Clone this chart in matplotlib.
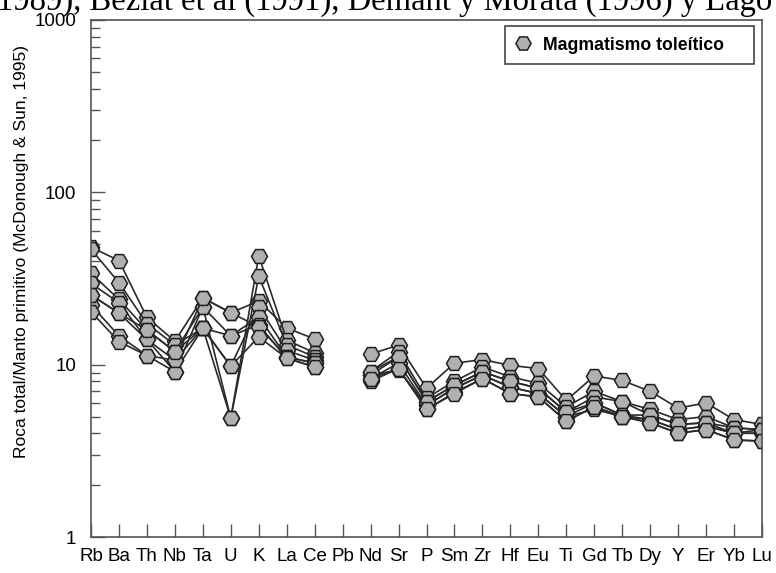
import numpy as np
import matplotlib
matplotlib.use('Agg')
import matplotlib.pyplot as plt

nan = np.nan

"""DATA"""
elements = ['Rb', 'Ba', 'Th', 'Nb', 'Ta', 'U', 'K', 'La', 'Ce', 'Pb', 'Nd', 'Sr', 'P', 'Sm',
            'Zr', 'Hf', 'Eu', 'Ti', 'Gd', 'Tb', 'Dy', 'Y', 'Er', 'Yb', 'Lu']

# normalised to primitive mantle, one list per sample (Pb not analysed)
s1 = [48.0, 40.2, 18.8, 13.7, 24.4, 20.0, 23.4, 16.3, 14.1, nan,
      11.5, 13.0, 7.3, 10.2, 10.7, 9.9, 9.5, 6.2, 8.6, 8.1, 7.0, 5.6, 6.0, 4.8, 4.5]
s2 = [46.8, 29.9, 17.3, 13.0, 16.3, 4.9, 42.8, 13.9, 11.7, nan,
      9.1, 11.9, 6.4, 8.0, 9.7, 8.5, 7.8, 5.7, 7.0, 6.1, 5.5, 4.8, 5.0, 4.3, 4.2]
s3 = [33.9, 23.9, 15.9, 11.9, 21.6, 4.9, 32.6, 13.0, 11.1, nan,
      8.7, 11.1, 6.1, 7.6, 9.1, 8.0, 7.3, 5.3, 6.5, 6.1, 5.1, 4.5, 4.6, 4.3, 4.2]
s4 = [29.6, 22.9, 14.0, 10.6, 16.3, 9.8, 21.6, 12.1, 10.6, nan,
      8.3, 10.2, 5.8, 7.3, 8.7, 7.4, 6.8, 5.0, 6.0, 5.1, 4.8, 4.2, 4.4, 4.0, 4.0]
s5 = [25.4, 19.9, 14.0, 9.1, 16.3, 14.7, 18.9, 11.1, 10.2, nan,
      8.0, 9.5, 5.5, 6.9, 8.3, 6.8, 6.5, 4.7, 5.7, 5.0, 4.6, 4.0, 4.2, 3.66, 3.6]
s6 = [22.2, 14.7, 11.3, 9.1, 21.6, 14.7, 17.0, 10.9, 9.7, nan,
      8.7, 9.3, 5.8, 7.3, 8.7, 7.4, 6.8, 5.0, 5.5, 5.0, 4.8, 4.2, 4.4, 4.0, 4.0]
s7 = [20.3, 13.6, 11.3, 10.6, 24.4, 20.0, 16.6, 11.1, 10.2, nan,
      9.1, 11.1, 6.1, 7.6, 9.1, 8.0, 7.3, 5.3, 6.0, 5.1, 5.1, 4.5, 4.6, 4.0, 4.2]
s8 = [25.4, 19.9, 15.9, 11.9, 16.3, 9.8, 14.5, 10.9, 9.7, nan,
      8.3, 9.5, 5.5, 6.8, 8.3, 6.8, 6.5, 4.7, 5.7, 5.0, 4.6, 4.0, 4.2, 3.66, 3.6]
samples = [s1, s2, s3, s4, s5, s6, s7, s8]

x = np.arange(len(elements))
axcol = '#555555'

fig = plt.figure(figsize=(7.76, 5.73), dpi=100)
ax = fig.add_axes([91/776, 1-537/573, 671/776, 517/573])

for i, s in enumerate(samples):
    ax.plot(x, s, color='#2a2a2a', lw=1.2, marker='H', ms=11.5,
            mfc='#b0b0b0', mec='#1e1e1e', mew=1.1,
            label='Magmatismo toleítico    ' if i == 0 else None)

ax.set_yscale('log')
ax.set_ylim(1, 1000)
ax.set_xlim(0, len(elements)-1)
ax.set_xticks(x)
ax.set_xticklabels(elements, family='Liberation Sans', fontsize=13.5)
ax.set_yticks([1, 10, 100, 1000])
ax.set_yticklabels(['1', '10', '100', '1000'], family='Liberation Sans', fontsize=13.5)
ax.tick_params(axis='y', which='major', direction='in', length=10, width=1, color=axcol, pad=10.5)
ax.tick_params(axis='y', which='minor', direction='in', length=6.5, width=1, color=axcol)
ax.tick_params(axis='x', direction='in', length=9.4, width=1, color=axcol, pad=8)
for spine in ('top', 'right', 'bottom', 'left'):
    ax.spines[spine].set_color(axcol)
    ax.spines[spine].set_linewidth(1.2)

fig.text(22/776, 1-252/573, 'Roca total/Manto primitivo (McDonough & Sun, 1995)',
         rotation=90, ha='center', va='center', family='Liberation Sans', fontsize=12.5)

legend = ax.legend(loc='upper right', bbox_to_anchor=(754/776, 1-26/573), bbox_transform=fig.transFigure,
                   prop={'family': 'Liberation Sans', 'weight': 'bold', 'size': 12.7},
                   fancybox=False, framealpha=1, borderpad=0.6, borderaxespad=0, handletextpad=0.74,
                   handlelength=0.8, markerscale=0.95, numpoints=1)
legend.get_frame().set_edgecolor('#444444')
legend.get_frame().set_linewidth(1.2)
for h in legend.legend_handles:
    h.set_linestyle('none')

# caption text cut off by the crop
fig.text(-0.004, 1-10/573, '1989), Béziat et al (1991), Demant y Morata (1996) y Lago',
         ha='left', va='baseline', family='Liberation Serif', fontsize=23.5)

fig.savefig('out.png', dpi=100)
